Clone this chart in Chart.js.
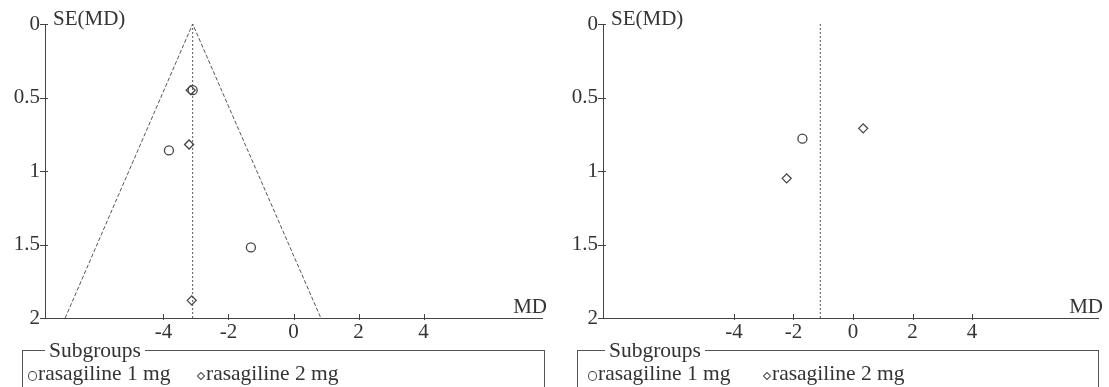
<!DOCTYPE html>
<html>
<head>
<meta charset="utf-8">
<script src="https://cdn.jsdelivr.net/npm/chart.js@4.4.0/dist/chart.umd.min.js"></script>
<style>
  body { margin: 0; background: #fff; width: 1109px; height: 387px; overflow: hidden; position: relative;
         font-family: "Liberation Serif", serif; color: #333; }
  canvas { position: absolute; top: 0; }
  fieldset { position: absolute; margin: 0; padding: 0; box-sizing: border-box; border: 1px solid #555;
             height: 60px; font-size: 21.5px; line-height: 23px; white-space: nowrap; }
  legend { padding: 0 4px; margin-left: 17px; }
  .item { display: inline-block; }
  .mk { display: inline-block; box-sizing: border-box; border: 1.3px solid #444; margin-right: 1px; }
  .mk.circle { width: 9px; height: 10px; border-radius: 50%; vertical-align: -1px; }
  .mk.diamond { width: 6px; height: 6px; transform: rotate(45deg); margin: 0 2px 0 1px; vertical-align: 1px; }
</style>
</head>
<body>
<canvas id="left" width="550" height="350" style="left:0"></canvas>
<canvas id="right" width="551" height="350" style="left:558px"></canvas>
<fieldset id="legLeft" style="left:22px; top:339px; width:523px; padding-left:5px"></fieldset>
<fieldset id="legRight" style="left:577px; top:339px; width:522px; padding-left:10px"></fieldset>
<script>
// axis ticks and labels
const xTicks = [-4, -2, 0, 2, 4];
const yTicks = [0, 0.5, 1, 1.5, 2];
const yTickLabels = ['0', '0.5', '1', '1.5', '2'];
const xTitle = 'MD';
const yTitle = 'SE(MD)';
const legendTitle = 'Subgroups';
const seriesNames = ['rasagiline 1 mg', 'rasagiline 2 mg'];

// left plot: mean difference and its standard error
const leftMd1 = [-3.10, -3.83, -1.31];
const leftSe1 = [0.45, 0.86, 1.52];
const leftMd2 = [-3.16, -3.21, -3.13];
const leftSe2 = [0.45, 0.82, 1.88];
const leftPooled = -3.1;
const leftFunnelMd = [-7.02, -3.1, 0.84];
const leftFunnelSe = [2, 0, 2];
const leftRange = [-7.64, 7.64];

// right plot
const rightMd1 = [-1.70];
const rightSe1 = [0.78];
const rightMd2 = [0.34, -2.23];
const rightSe2 = [0.71, 1.05];
const rightPooled = -1.1;
const rightRange = [-8.4, 8.23];

const font = { family: '"Liberation Serif", serif', size: 21 };
const ink = '#444';

function pts(xs, ys) {
  return xs.map((v, i) => ({ x: v, y: ys[i] }));
}

// tick marks crossing the axes and the two axis titles
const axisDecor = {
  id: 'axisDecor',
  afterDraw(chart) {
    const { ctx, chartArea, scales: { x, y } } = chart;
    ctx.save();
    ctx.strokeStyle = ink;
    ctx.lineWidth = 1;
    ctx.beginPath();
    y.ticks.forEach(t => {
      const py = Math.round(y.getPixelForValue(t.value)) + 0.5;
      ctx.moveTo(chartArea.left - 5, py);
      ctx.lineTo(chartArea.left + 3, py);
    });
    x.ticks.forEach(t => {
      const px = Math.round(x.getPixelForValue(t.value)) + 0.5;
      ctx.moveTo(px, chartArea.bottom - 4);
      ctx.lineTo(px, chartArea.bottom + 2);
    });
    ctx.stroke();
    ctx.fillStyle = '#333';
    ctx.font = '21px "Liberation Serif"';
    ctx.textBaseline = 'middle';
    ctx.textAlign = 'left';
    ctx.fillText(yTitle, chartArea.left + 8, chartArea.top - 5);
    ctx.textAlign = 'right';
    ctx.fillText(xTitle, chartArea.right + 5, chartArea.bottom - 11);
    ctx.restore();
  }
};

function makePlot(id, md1, se1, md2, se2, pooled, funnel, range, padRight) {
  const datasets = [
    {
      label: seriesNames[0],
      data: pts(md1, se1),
      pointStyle: 'circle',
      pointRadius: 4.5,
      borderColor: ink,
      borderWidth: 1.3,
      backgroundColor: 'rgba(0,0,0,0)'
    },
    {
      label: seriesNames[1],
      data: pts(md2, se2),
      pointStyle: 'rectRot',
      pointRadius: 4.5,
      borderColor: ink,
      borderWidth: 1.3,
      backgroundColor: 'rgba(0,0,0,0)'
    },
    {
      label: 'pooled',
      data: pts([pooled, pooled], [0, 2]),
      showLine: true,
      pointRadius: 0,
      borderColor: '#555',
      borderWidth: 1,
      borderDash: [2, 2]
    }
  ];
  if (funnel) {
    datasets.push({
      label: 'funnel',
      data: pts(funnel[0], funnel[1]),
      showLine: true,
      pointRadius: 0,
      borderColor: '#555',
      borderWidth: 1,
      borderDash: [4, 2]
    });
  }

  new Chart(document.getElementById(id), {
    type: 'scatter',
    data: { datasets },
    options: {
      responsive: false,
      animation: false,
      devicePixelRatio: 1,
      layout: { padding: { top: 24, right: padRight, left: 0, bottom: 0 } },
      plugins: { legend: { display: false }, tooltip: { enabled: false } },
      scales: {
        x: {
          type: 'linear',
          min: range[0],
          max: range[1],
          afterBuildTicks: s => { s.ticks = xTicks.map(v => ({ value: v })); },
          afterFit: s => { s.height = 32; },
          grid: { display: false, drawTicks: false },
          border: { display: true, color: ink, width: 1 },
          ticks: { font, color: '#333', padding: 2, autoSkip: false, maxRotation: 0 }
        },
        y: {
          type: 'linear',
          reverse: true,
          min: 0,
          max: 2,
          afterBuildTicks: s => { s.ticks = yTicks.map(v => ({ value: v })); },
          afterFit: s => { s.width = 45; },
          grid: { display: false, drawTicks: false },
          border: { display: true, color: ink, width: 1 },
          ticks: {
            font, color: '#333', padding: 5, autoSkip: false,
            callback: (v, i) => yTickLabels[i]
          }
        }
      }
    },
    plugins: [axisDecor]
  });
}

makePlot('left', leftMd1, leftSe1, leftMd2, leftSe2, leftPooled, [leftFunnelMd, leftFunnelSe], leftRange, 8);
makePlot('right', rightMd1, rightSe1, rightMd2, rightSe2, rightPooled, null, rightRange, 11);

// legend boxes
function buildLegend(id, itemWidth) {
  const box = document.getElementById(id);
  const lg = document.createElement('legend');
  lg.textContent = legendTitle;
  box.appendChild(lg);
  const marks = ['circle', 'diamond'];
  seriesNames.forEach((name, i) => {
    const span = document.createElement('span');
    span.className = 'item';
    if (i === 0) span.style.width = itemWidth + 'px';
    const mk = document.createElement('span');
    mk.className = 'mk ' + marks[i];
    span.appendChild(mk);
    span.appendChild(document.createTextNode(name));
    box.appendChild(span);
  });
}
buildLegend('legLeft', 169);
buildLegend('legRight', 175);
</script>
</body>
</html>
